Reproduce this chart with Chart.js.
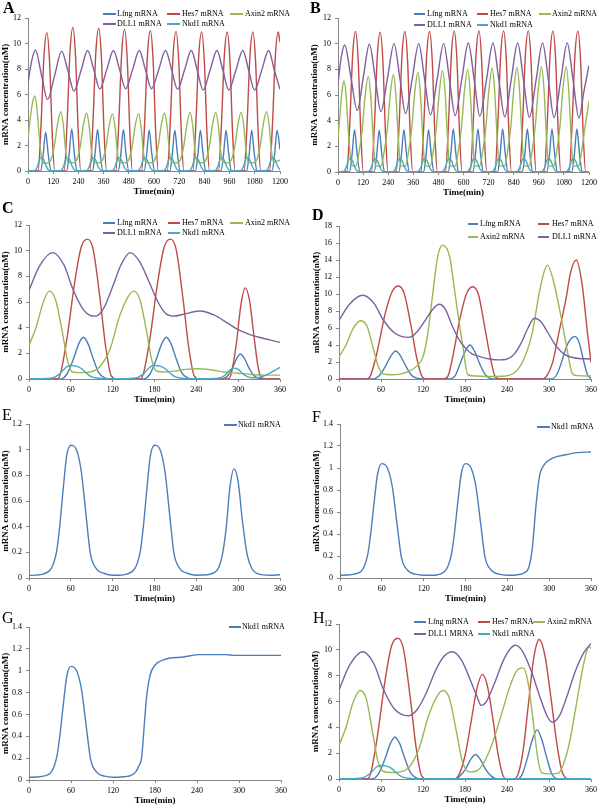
<!DOCTYPE html>
<html>
<head>
<meta charset="utf-8">
<script src="https://cdn.jsdelivr.net/npm/chart.js@4.4.1/dist/chart.umd.min.js"></script>
<style>
  html, body { margin: 0; padding: 0; background: #fff; }
  #fig { position: relative; width: 600px; height: 808px; overflow: hidden; font-family: "Liberation Serif", "Times New Roman", serif; }
  #fig canvas { position: absolute; }
  .tag { position: absolute; font-size: 16px; line-height: 16px; }
  .tag.b { font-weight: bold; }
  .lg { position: absolute; font-size: 8px; line-height: 10px; white-space: nowrap; color: #000; }
  .lg i { position: absolute; left: 0; top: 4.3px; height: 1.5px; }
</style>
</head>
<body>
<div id="fig"></div>
<script>
// ---- data: [time (min), concentration (nM)] ----
const aLfng = [[0,0],[60,0],[72,1.22],[84,3.05],[96,1.37],[110,0],[184,0],[196,1.32],[208,3.3],[220,1.49],[234,0],[307,0],[319,1.3],[331,3.25],[343,1.46],[357,0],[430,0],[442,1.3],[454,3.25],[466,1.46],[480,0],[553,0],[565,1.28],[577,3.2],[589,1.44],[603,0],[675,0],[687,1.28],[699,3.2],[711,1.44],[725,0],[797,0],[809,1.28],[821,3.2],[833,1.44],[847,0],[919,0],[931,1.28],[943,3.2],[955,1.44],[969,0],[1041,0],[1053,1.28],[1065,3.2],[1077,1.44],[1091,0],[1162,0],[1174,1.28],[1186,3.2],[1200,1.7]];
const aHes7 = [[0,0],[48,0],[62,3.6],[76,9.0],[90,10.85],[103,8.45],[115,3.05],[127,0],[172,0],[186,3.7],[200,9.35],[214,11.25],[227,8.8],[239,3.15],[251,0],[295,0],[309,3.7],[323,9.3],[337,11.2],[350,8.75],[362,3.15],[374,0],[418,0],[432,3.65],[446,9.2],[460,11.1],[473,8.65],[485,3.1],[497,0],[541,0],[555,3.6],[569,9.15],[583,11.0],[596,8.6],[608,3.1],[620,0],[663,0],[677,3.6],[691,9.1],[705,10.95],[718,8.55],[730,3.05],[742,0],[785,0],[799,3.6],[813,9.05],[827,10.9],[840,8.5],[852,3.05],[864,0],[907,0],[921,3.6],[935,9.05],[949,10.9],[962,8.5],[974,3.05],[986,0],[1029,0],[1043,3.6],[1057,9.05],[1071,10.9],[1084,8.5],[1096,3.05],[1108,0],[1150,0],[1164,3.6],[1178,9.05],[1192,10.9],[1200,10.1]];
const aAxin2 = [[0,2.6],[12,4.3],[22,5.4],[32,5.88],[42,5.0],[52,3.0],[62,1.3],[72,0.65],[96,0.62],[111,0.95],[126,2.0],[141,3.72],[156,4.65],[168,3.63],[180,1.49],[190,0.7],[219,0.65],[234,0.95],[249,1.96],[264,3.64],[279,4.55],[291,3.55],[303,1.46],[313,0.7],[342,0.65],[357,0.95],[372,1.94],[387,3.6],[402,4.5],[414,3.51],[426,1.44],[436,0.7],[466,0.65],[481,0.95],[496,1.94],[511,3.6],[526,4.5],[538,3.51],[550,1.44],[560,0.7],[590,0.65],[605,0.95],[620,1.96],[635,3.64],[650,4.55],[662,3.55],[674,1.46],[684,0.7],[712,0.65],[727,0.95],[742,1.98],[757,3.68],[772,4.6],[784,3.59],[796,1.47],[806,0.7],[834,0.65],[849,0.95],[864,1.98],[879,3.68],[894,4.6],[906,3.59],[918,1.47],[928,0.7],[955,0.65],[970,0.95],[985,1.98],[1000,3.68],[1015,4.62],[1027,3.6],[1039,1.48],[1049,0.7],[1076,0.65],[1091,0.95],[1106,2.0],[1121,3.72],[1136,4.65],[1148,3.63],[1160,1.49],[1170,0.7],[1200,0.85]];
const aDll1 = [[0,6.9],[17,8.6],[35,9.5],[64,7.55],[93,5.6],[127,7.5],[160,9.4],[190,7.85],[219,6.27],[252,7.85],[284,9.45],[313,7.95],[342,6.43],[375,7.95],[407,9.45],[436,7.95],[465,6.45],[498,7.95],[530,9.45],[559,7.95],[588,6.45],[622,7.93],[655,9.45],[684,7.93],[712,6.4],[745,7.9],[778,9.45],[806,7.9],[834,6.35],[867,7.9],[900,9.45],[928,7.9],[956,6.35],[990,7.9],[1023,9.45],[1051,7.9],[1079,6.35],[1113,7.9],[1146,9.45],[1173,7.9],[1200,6.4]];
const aNkd1 = [[0,0.03],[32,0.05],[46,0.4],[55,0.9],[62,1.05],[74,0.92],[85,0.43],[97,0.08],[117,0.03],[156,0.05],[170,0.4],[179,0.9],[186,1.03],[198,0.9],[209,0.43],[221,0.08],[241,0.03],[279,0.05],[293,0.4],[302,0.9],[309,1.03],[321,0.9],[332,0.43],[344,0.08],[364,0.03],[402,0.05],[416,0.4],[425,0.9],[432,1.03],[444,0.9],[455,0.43],[467,0.08],[487,0.03],[525,0.05],[539,0.4],[548,0.9],[555,1.03],[567,0.9],[578,0.43],[590,0.08],[610,0.03],[647,0.05],[661,0.4],[670,0.9],[677,1.03],[689,0.9],[700,0.43],[712,0.08],[732,0.03],[769,0.05],[783,0.4],[792,0.9],[799,1.03],[811,0.9],[822,0.43],[834,0.08],[854,0.03],[891,0.05],[905,0.4],[914,0.9],[921,1.03],[933,0.9],[944,0.43],[956,0.08],[976,0.03],[1013,0.05],[1027,0.4],[1036,0.9],[1043,1.03],[1055,0.9],[1066,0.43],[1078,0.08],[1098,0.03],[1134,0.05],[1148,0.4],[1157,0.9],[1164,1.03],[1176,0.9],[1187,0.43],[1200,0.08]];

const bLfng = [[0,0],[55,0],[67,1.32],[79,3.3],[91,1.49],[105,0],[173,0],[185,1.3],[197,3.25],[209,1.46],[223,0],[291,0],[303,1.32],[315,3.3],[327,1.49],[341,0],[409,0],[421,1.32],[433,3.3],[445,1.49],[459,0],[527,0],[539,1.34],[551,3.35],[563,1.51],[577,0],[645,0],[657,1.34],[669,3.35],[681,1.51],[695,0],[763,0],[775,1.34],[787,3.35],[799,1.51],[813,0],[881,0],[893,1.34],[905,3.35],[917,1.51],[931,0],[999,0],[1011,1.34],[1023,3.35],[1035,1.51],[1049,0],[1118,0],[1130,1.34],[1142,3.35],[1154,1.51],[1168,0],[1200,0]];
const bHes7 = [[0,0],[42,0],[56,3.6],[70,9.1],[84,10.95],[97,8.55],[109,3.05],[121,0],[160,0],[174,3.6],[188,9.05],[202,10.9],[215,8.5],[227,3.05],[239,0],[278,0],[292,3.6],[306,9.1],[320,10.95],[333,8.55],[345,3.05],[357,0],[396,0],[410,3.6],[424,9.1],[438,10.95],[451,8.55],[463,3.05],[475,0],[514,0],[528,3.65],[542,9.15],[556,11.0],[569,8.6],[581,3.1],[593,0],[632,0],[646,3.65],[660,9.15],[674,11.0],[687,8.6],[699,3.1],[711,0],[750,0],[764,3.65],[778,9.15],[792,11.0],[805,8.6],[817,3.1],[829,0],[868,0],[882,3.65],[896,9.15],[910,11.0],[923,8.6],[935,3.1],[947,0],[986,0],[1000,3.65],[1014,9.15],[1028,11.0],[1041,8.6],[1053,3.1],[1065,0],[1105,0],[1119,3.65],[1133,9.15],[1147,11.0],[1160,8.6],[1172,3.1],[1184,0],[1200,0]];
const bAxin2 = [[0,2.6],[10,4.6],[20,6.4],[28,7.1],[38,6.1],[50,3.0],[60,1.1],[68,0.5],[85,0.45],[100,1.49],[115,3.2],[130,5.96],[145,7.45],[157,5.81],[169,2.38],[179,0.5],[205,0.45],[220,1.52],[235,3.27],[250,6.08],[265,7.6],[277,5.93],[289,2.43],[299,0.5],[322,0.45],[337,1.55],[352,3.33],[367,6.2],[382,7.75],[394,6.05],[406,2.48],[416,0.5],[440,0.45],[455,1.58],[470,3.4],[485,6.32],[500,7.9],[512,6.16],[524,2.53],[534,0.5],[560,0.45],[575,1.6],[590,3.44],[605,6.4],[620,8.0],[632,6.24],[644,2.56],[654,0.5],[677,0.45],[692,1.62],[707,3.48],[722,6.48],[737,8.1],[749,6.32],[761,2.59],[771,0.5],[796,0.45],[811,1.63],[826,3.5],[841,6.52],[856,8.15],[868,6.36],[880,2.61],[890,0.5],[913,0.45],[928,1.64],[943,3.53],[958,6.56],[973,8.2],[985,6.4],[997,2.62],[1007,0.5],[1031,0.45],[1046,1.64],[1061,3.53],[1076,6.56],[1091,8.2],[1103,6.4],[1115,2.62],[1125,0.5],[1150,0.45],[1165,1.64],[1180,3.4],[1200,5.5]];
const bDll1 = [[0,6.9],[15,8.9],[32,9.9],[62,7.35],[92,4.8],[121,7.38],[150,9.95],[178,7.33],[205,4.7],[237,7.35],[268,10.0],[296,7.28],[323,4.55],[355,7.28],[386,10.0],[414,7.23],[442,4.45],[474,7.23],[505,10.0],[533,7.2],[560,4.4],[592,7.23],[623,10.05],[651,7.2],[678,4.35],[710,7.2],[741,10.05],[769,7.18],[797,4.3],[828,7.18],[859,10.05],[887,7.15],[915,4.25],[947,7.15],[978,10.05],[1006,7.15],[1033,4.25],[1065,7.15],[1096,10.05],[1124,7.13],[1152,4.2],[1176,6.3],[1200,8.3]];
const bNkd1 = [[0,0.03],[26,0.05],[40,0.4],[49,0.9],[56,1.05],[68,0.92],[79,0.43],[91,0.08],[111,0.03],[146,0.05],[160,0.4],[169,0.9],[176,1.03],[188,0.9],[199,0.43],[211,0.08],[231,0.03],[264,0.05],[278,0.4],[287,0.9],[294,1.03],[306,0.9],[317,0.43],[329,0.08],[349,0.03],[383,0.05],[397,0.4],[406,0.9],[413,1.03],[425,0.9],[436,0.43],[448,0.08],[468,0.03],[500,0.05],[514,0.4],[523,0.9],[530,1.03],[542,0.9],[553,0.43],[565,0.08],[585,0.03],[620,0.05],[634,0.4],[643,0.9],[650,1.03],[662,0.9],[673,0.43],[685,0.08],[705,0.03],[738,0.05],[752,0.4],[761,0.9],[768,1.03],[780,0.9],[791,0.43],[803,0.08],[823,0.03],[856,0.05],[870,0.4],[879,0.9],[886,1.03],[898,0.9],[909,0.43],[921,0.08],[941,0.03],[975,0.05],[989,0.4],[998,0.9],[1005,1.03],[1017,0.9],[1028,0.43],[1040,0.08],[1060,0.03],[1093,0.05],[1107,0.4],[1116,0.9],[1123,1.03],[1135,0.9],[1146,0.43],[1158,0.08],[1178,0.03],[1200,0.03]];

const cLfng = [[0,0],[45,0],[54,0.35],[64,1.6],[71,2.7],[78,3.25],[85,2.7],[92,1.6],[100,0.5],[108,0.1],[116,0],[164,0],[173,0.35],[183,1.6],[190,2.7],[197,3.25],[204,2.7],[211,1.6],[219,0.5],[227,0.1],[235,0],[278,0],[285,0.25],[292,0.9],[298,1.6],[303,1.95],[309,1.6],[315,0.9],[322,0.3],[330,0.05],[340,0],[360,0]];
const cHes7 = [[0,0],[40,0],[45,0.4],[54,3.0],[66,7.7],[75,10.3],[84,10.9],[92,10.1],[102,6.2],[110,2.5],[118,0.25],[126,0],[159,0],[164,0.4],[173,3.0],[185,7.7],[194,10.3],[203,10.9],[211,10.1],[221,6.2],[229,2.5],[237,0.25],[245,0],[285,0],[290,0.4],[297,2.6],[304,5.8],[310,7.1],[316,6.2],[323,3.2],[329,0.8],[335,0.05],[342,0],[360,0]];
const cAxin2 = [[0,2.6],[10,4.0],[20,5.9],[29,6.85],[38,6.2],[48,3.6],[55,1.5],[62,0.55],[75,0.5],[88,0.55],[102,1.0],[116,2.3],[130,4.9],[142,6.4],[150,6.85],[159,6.2],[169,3.6],[176,1.5],[183,0.6],[195,0.55],[210,0.62],[225,0.75],[240,0.8],[260,0.72],[280,0.55],[300,0.45],[320,0.35],[340,0.3],[360,0.3]];
const cDll1 = [[0,6.9],[15,8.8],[34,9.85],[50,8.9],[63,7.0],[78,5.4],[88,4.95],[96,4.9],[108,5.6],[120,7.2],[132,8.9],[145,9.85],[158,9.2],[172,7.6],[185,6.0],[196,5.1],[207,4.9],[222,5.05],[245,5.3],[265,5.0],[285,4.35],[300,3.85],[315,3.5],[330,3.25],[345,3.05],[360,2.85]];
const cNkd1 = [[0,0.03],[20,0.03],[30,0.06],[35,0.11],[44,0.4],[49,0.69],[54,0.95],[60,1.05],[68,1.0],[75,0.82],[83,0.43],[90,0.16],[102,0.05],[120,0.03],[140,0.03],[150,0.06],[155,0.11],[164,0.4],[169,0.69],[174,0.95],[180,1.05],[188,1.0],[195,0.82],[203,0.43],[210,0.16],[222,0.05],[240,0.03],[260,0.03],[270,0.06],[277,0.15],[283,0.4],[288,0.7],[294,0.85],[300,0.75],[306,0.45],[313,0.18],[320,0.1],[330,0.12],[340,0.3],[350,0.6],[360,0.9]];

const dLfng = [[0,0],[48,0],[57,0.35],[67,1.6],[74,2.7],[81,3.3],[88,2.7],[95,1.6],[103,0.5],[111,0.1],[119,0],[158,0],[166,0.4],[173,1.8],[180,3.2],[187,4.0],[194,3.2],[201,1.8],[209,0.5],[217,0.05],[225,0],[303,0],[311,0.5],[318,2.0],[325,3.8],[331,4.7],[337,5.0],[343,4.3],[349,2.3],[355,0.5],[360,0.05]];
const dHes7 = [[0,0],[40,0],[45,0.4],[54,3.0],[66,7.7],[76,10.3],[85,10.95],[93,10.1],[103,6.2],[111,2.5],[119,0.25],[126,0],[150,0],[156,0.4],[163,2.8],[172,6.8],[182,10.0],[191,10.85],[199,10.0],[208,6.2],[216,2.6],[223,0.3],[230,0],[290,0],[297,0.4],[305,1.9],[314,5.4],[324,9.3],[331,12.6],[339,14.0],[347,11.3],[355,5.4],[360,1.95]];
const dAxin2 = [[0,2.6],[10,4.0],[20,5.9],[31,6.85],[40,6.2],[49,3.6],[56,1.5],[63,0.6],[75,0.5],[85,0.55],[100,0.9],[112,1.6],[120,2.6],[127,5.4],[134,10.1],[141,14.4],[148,15.75],[158,14.4],[167,9.3],[177,3.8],[184,0.5],[195,0.35],[215,0.3],[238,0.35],[250,0.7],[258,1.4],[267,2.9],[276,5.4],[286,10.1],[293,12.6],[298,13.4],[307,11.3],[317,7.4],[326,3.4],[333,0.7],[340,0.4],[360,0.35]];
const dDll1 = [[0,6.9],[15,8.8],[34,9.85],[50,8.9],[63,7.0],[78,5.5],[88,5.05],[100,4.9],[112,5.6],[124,7.0],[134,8.2],[143,8.8],[152,8.2],[162,6.2],[171,4.7],[181,3.6],[190,2.95],[200,2.66],[215,2.35],[229,2.25],[238,2.3],[250,2.9],[260,4.2],[270,6.0],[279,7.15],[288,6.8],[298,5.5],[310,3.9],[322,2.9],[335,2.5],[360,2.35]];

const eNkd1 = [[0,0.02],[10,0.022],[20,0.03],[30,0.06],[35,0.11],[40,0.22],[44,0.4],[49,0.69],[54,0.95],[60,1.035],[68,1.0],[75,0.83],[82,0.48],[88,0.19],[97,0.07],[108,0.035],[120,0.022],[130,0.022],[140,0.03],[150,0.06],[155,0.11],[160,0.22],[164,0.4],[169,0.69],[174,0.95],[180,1.035],[188,1.0],[195,0.83],[202,0.48],[208,0.19],[217,0.07],[228,0.035],[240,0.022],[255,0.025],[265,0.04],[272,0.08],[278,0.2],[283,0.4],[288,0.7],[294,0.85],[300,0.75],[306,0.45],[313,0.18],[320,0.07],[330,0.03],[345,0.022],[360,0.025]];
const fNkd1 = [[0,0.025],[10,0.027],[20,0.035],[30,0.06],[35,0.11],[40,0.22],[44,0.4],[49,0.69],[54,0.95],[60,1.04],[68,1.0],[75,0.83],[82,0.48],[88,0.19],[97,0.07],[108,0.035],[120,0.025],[130,0.025],[140,0.03],[150,0.06],[155,0.11],[160,0.22],[164,0.4],[169,0.69],[174,0.95],[180,1.04],[188,1.0],[195,0.83],[202,0.48],[208,0.19],[217,0.07],[228,0.035],[240,0.025],[255,0.03],[265,0.05],[271,0.1],[276,0.28],[281,0.65],[286,0.92],[293,1.03],[305,1.09],[324,1.12],[340,1.14],[360,1.145]];
const gNkd1 = [[0,0.025],[10,0.027],[20,0.035],[30,0.06],[35,0.11],[40,0.22],[44,0.4],[49,0.69],[54,0.95],[60,1.04],[68,1.0],[75,0.83],[82,0.48],[88,0.19],[97,0.07],[108,0.035],[120,0.025],[135,0.03],[145,0.04],[152,0.07],[157,0.13],[161,0.21],[164.5,0.49],[168,0.76],[173,0.96],[180,1.05],[192,1.1],[221,1.126],[244,1.147],[282,1.147],[292,1.14],[360,1.14]];

const hLfng = [[0,0],[47,0],[56,0.35],[66,1.6],[73,2.7],[80,3.25],[87,2.7],[94,1.6],[102,0.5],[110,0.1],[118,0],[165,0],[172,0.2],[180,0.7],[188,1.5],[195,1.9],[202,1.5],[210,0.7],[218,0.2],[226,0],[255,0],[262,0.4],[269,1.6],[276,3.0],[283,3.8],[290,3.0],[297,1.6],[304,0.4],[311,0.03],[320,0],[360,0]];
const hHes7 = [[0,0],[40,0],[45,0.4],[54,3.0],[66,7.7],[75,10.3],[84,10.9],[92,10.1],[102,6.2],[110,2.5],[118,0.25],[126,0],[165,0],[172,0.4],[180,1.8],[188,4.2],[197,7.0],[205,8.1],[212,7.2],[220,4.6],[227,2.0],[234,0.3],[240,0],[250,0],[256,0.4],[263,2.2],[270,5.5],[278,9.3],[286,10.8],[294,9.6],[303,6.2],[311,2.8],[318,0.7],[325,0.05],[332,0],[360,0]];
const hAxin2 = [[0,2.6],[10,4.0],[20,5.9],[30,6.85],[39,6.2],[48,3.6],[55,1.5],[63,0.6],[75,0.5],[88,0.55],[100,0.9],[114,2.3],[128,4.9],[140,6.4],[149,6.85],[158,6.2],[168,3.6],[176,1.4],[186,0.55],[195,0.6],[205,1.1],[218,2.6],[232,5.0],[245,7.3],[255,8.45],[263,8.6],[270,7.5],[278,4.2],[284,1.6],[290,0.45],[300,0.4],[314,0.46],[321,1.2],[328,2.5],[335,4.5],[342,6.7],[348,8.5],[353,9.7],[357,10.25],[360,10.1]];
const hDll1 = [[0,6.9],[15,8.8],[34,9.85],[50,8.9],[63,7.0],[78,5.5],[88,5.05],[100,4.9],[112,5.4],[125,6.7],[138,8.4],[150,9.5],[162,9.85],[175,9.2],[188,7.6],[197,6.4],[203,5.7],[210,5.95],[222,7.4],[235,9.2],[245,10.1],[252,10.35],[262,9.9],[275,8.3],[288,6.2],[298,4.8],[305,4.4],[315,4.9],[325,6.3],[338,8.4],[350,9.8],[360,10.5]];
const hNkd1 = [[0,0.03],[20,0.03],[30,0.06],[35,0.11],[44,0.4],[49,0.69],[54,0.95],[60,1.05],[68,1.0],[75,0.82],[83,0.43],[90,0.16],[102,0.05],[120,0.02],[360,0.02]];

// ---- styling ----
const BLUE = "#4a7ebb", RED = "#be4b48", GREEN = "#98b954", PURPLE = "#7d60a0", CYAN = "#46aac5";
const AXIS = "#868686";
const FONT = "'Liberation Serif','Times New Roman',serif";
Chart.defaults.font.family = FONT;
Chart.defaults.color = "#000";

const five = (l, h, a, d, n) => [
  { data: l, color: BLUE }, { data: h, color: RED }, { data: a, color: GREEN },
  { data: d, color: PURPLE }, { data: n, color: CYAN }
];
const legend5 = (x1, x2, tx, x3, x4, tx2, x5, x6, tx3, y1, y2, dllLabel) => [
  ["Lfng mRNA", BLUE, x1, x2, tx, y1], ["Hes7 mRNA", RED, x3, x4, tx2, y1],
  ["Axin2 mRNA", GREEN, x5, x6, tx3, y1], [dllLabel || "DLL1 mRNA", PURPLE, x1, x2, tx, y2],
  ["Nkd1 mRNA", CYAN, x3, x4, tx2, y2]
];

// plot = [left, top, right, bottom] in page pixels
const panels = [
  { tag: "A", bold: true, tagXY: [3, 0], col: 0, plot: [28, 18, 280, 171], xMax: 1200, xStep: 120, yMax: 12, yStep: 2, yTitleX: 6,
    series: five(aLfng, aHes7, aAxin2, aDll1, aNkd1), legend: legend5(103, 116, 117, 167, 180, 182, 230, 243, 245, 14, 24) },
  { tag: "B", bold: true, tagXY: [310, 0], col: 1, plot: [338, 18, 591, 172], xMax: 1200, xStep: 120, yMax: 12, yStep: 2, yTitleX: 315,
    series: five(bLfng, bHes7, bAxin2, bDll1, bNkd1), legend: legend5(414, 425, 427, 477, 488, 490, 539, 551, 552, 14, 25) },
  { tag: "C", bold: true, tagXY: [2, 200], col: 0, plot: [29, 225, 280, 379], xMax: 360, xStep: 60, yMax: 12, yStep: 2, yTitleX: 6,
    series: five(cLfng, cHes7, cAxin2, cDll1, cNkd1), legend: legend5(103, 115, 117, 168, 180, 182, 230, 243, 245, 223, 233) },
  { tag: "D", bold: true, tagXY: [312, 207], col: 1, plot: [339, 226, 592, 379], xMax: 360, xStep: 60, yMax: 18, yStep: 2, yTitleX: 317,
    series: [{ data: dLfng, color: BLUE }, { data: dHes7, color: RED }, { data: dAxin2, color: GREEN }, { data: dDll1, color: PURPLE }],
    legend: [["Lfng mRNA", BLUE, 468, 478, 480, 224], ["Hes7 mRNA", RED, 538, 549, 552, 224],
             ["Axin2 mRNA", GREEN, 468, 478, 480, 237], ["DLL1 mRNA", PURPLE, 538, 549, 552, 237]] },
  { tag: "E", bold: false, tagXY: [2, 407], col: 0, plot: [29, 424, 280, 578], xMax: 360, xStep: 60, yMax: 1.2, yStep: 0.2, yTitleX: 6,
    series: [{ data: eNkd1, color: BLUE }], legend: [["Nkd1 mRNA", BLUE, 224, 237, 238, 425]] },
  { tag: "F", bold: false, tagXY: [312, 409], col: 1, plot: [340, 424, 592, 578], xMax: 360, xStep: 60, yMax: 1.4, yStep: 0.2, yTitleX: 317,
    series: [{ data: fNkd1, color: BLUE }], legend: [["Nkd1 mRNA", BLUE, 537, 550, 551, 427]] },
  { tag: "G", bold: false, tagXY: [2, 610], col: 0, plot: [29, 627, 281, 780], xMax: 360, xStep: 60, yMax: 1.4, yStep: 0.2, yTitleX: 6,
    series: [{ data: gNkd1, color: BLUE }], legend: [["Nkd1 mRNA", BLUE, 229, 241, 242, 627]] },
  { tag: "H", bold: false, tagXY: [313, 610], col: 1, plot: [339, 624, 592, 779], xMax: 360, xStep: 60, yMax: 12, yStep: 2, yTitleX: 316,
    series: five(hLfng, hHes7, hAxin2, hDll1, hNkd1), legend: legend5(414, 426, 428, 478, 490, 492, 533, 545, 547, 622, 634, "DLL1 MRNA") }
];

const fig = document.getElementById("fig");

function addLegend(items) {
  items.forEach(([text, color, x1, x2, tx, y]) => {
    const d = document.createElement("div");
    d.className = "lg";
    d.style.left = x1 + "px";
    d.style.top = (y - 5) + "px";
    const sw = document.createElement("i");
    sw.style.width = (x2 - x1) + "px";
    sw.style.background = color;
    const t = document.createElement("span");
    t.style.marginLeft = (tx - x1) + "px";
    t.textContent = text;
    d.appendChild(sw);
    d.appendChild(t);
    fig.appendChild(d);
  });
}

function makePanel(p) {
  const [L, T, R, B] = p.plot;
  const colX = p.col * 300;
  const cv = document.createElement("canvas");
  cv.width = 300;
  cv.height = B - T + 50;
  cv.style.left = colX + "px";
  cv.style.top = (T - 20) + "px";
  fig.appendChild(cv);

  const gridOpts = { drawOnChartArea: false, drawTicks: true, tickLength: 3, color: AXIS };
  const n = p.series.length;
  new Chart(cv, {
    type: "line",
    data: {
      datasets: p.series.map((s, i) => ({
        data: s.data.map(([x, y]) => ({ x, y })),
        borderColor: s.color,
        borderWidth: 1.4,
        pointRadius: 0,
        fill: false,
        cubicInterpolationMode: "monotone",
        order: n - i
      }))
    },
    options: {
      responsive: false,
      animation: false,
      events: [],
      layout: { padding: { left: 0, top: 20, right: colX + 300 - R, bottom: 0 } },
      plugins: { legend: { display: false }, tooltip: { enabled: false } },
      scales: {
        x: {
          type: "linear", min: 0, max: p.xMax,
          ticks: { stepSize: p.xStep, autoSkip: false, maxRotation: 0, padding: 3, font: { size: 8 }, callback: v => String(v) },
          grid: gridOpts,
          border: { color: AXIS },
          title: { display: true, text: "Time(min)", font: { size: 9, weight: "bold" }, padding: { top: 0, bottom: 3.6 } },
          afterFit: s => { s.height = 30; }
        },
        y: {
          min: 0, max: p.yMax,
          ticks: { stepSize: p.yStep, padding: 4, font: { size: 8 }, callback: v => String(+v.toFixed(2)) },
          grid: gridOpts,
          border: { color: AXIS },
          title: { display: true, text: "mRNA concentration(nM)", font: { size: 9, weight: "bold" }, padding: { top: p.yTitleX - colX - 5.4, bottom: 0 } },
          afterFit: s => { s.width = L - colX; }
        }
      }
    }
  });

  const tag = document.createElement("div");
  tag.className = "tag" + (p.bold ? " b" : "");
  tag.style.left = p.tagXY[0] + "px";
  tag.style.top = p.tagXY[1] + "px";
  tag.textContent = p.tag;
  fig.appendChild(tag);
  addLegend(p.legend);
}

panels.forEach(makePanel);
</script>
</body>
</html>
